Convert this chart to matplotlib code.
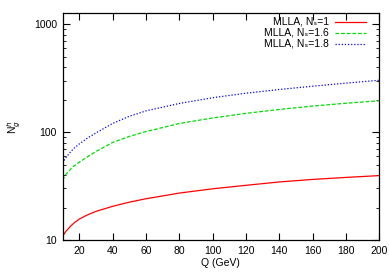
import matplotlib
matplotlib.use("Agg")
import matplotlib.pyplot as plt
from matplotlib.lines import Line2D
from matplotlib.ticker import LogLocator, FixedLocator, NullFormatter, FixedFormatter

plt.rcParams['font.family'] = ['Liberation Sans', 'DejaVu Sans']

Q = [10, 12, 15, 17, 20, 25, 30, 40, 50, 60, 80, 100, 120, 140, 160, 180, 200]
n_s1 = [10.8, 12.0, 13.5, 14.4, 15.6, 17.1, 18.4, 20.5, 22.4, 24.1, 27.2, 29.8, 32.1, 34.5, 36.4, 38.0, 39.5]
n_s16 = [35.9, 40.5, 45.5, 48.7, 52.5, 59, 66, 80, 91, 101, 120, 135, 149, 162, 174, 185, 195]
n_s18 = [51.5, 58, 66, 71, 77.5, 88, 98, 120, 140, 157, 184, 208, 229, 248, 266, 284, 302]
labels = ["MLLA, N\u209b=1", "MLLA, N\u209b=1.6", "MLLA, N\u209b=1.8"]
xticks = [20, 40, 60, 80, 100, 120, 140, 160, 180, 200]
yticks = [10, 100, 1000]

fig = plt.figure(figsize=(3.89, 2.73), dpi=100)
ax = fig.add_axes([0.1607, 0.1209, 0.975 - 0.1607, 0.952 - 0.1209])

colors = ['#ff0000', '#00dd00', '#0000ff']
styles = ['-', (0, (3, 1.5)), (0, (1, 1.5))]
for y, c, s in zip([n_s1, n_s16, n_s18], colors, styles):
    ax.plot(Q, y, color=c, lw=0.9, ls=s)

ax.set_yscale('log')
ax.set_xlim(10, 200)
ax.set_ylim(10, 1265)
ax.xaxis.set_major_locator(FixedLocator(xticks))
ax.set_xticklabels([str(t) for t in xticks])
ax.yaxis.set_major_locator(FixedLocator(yticks))
ax.yaxis.set_major_formatter(FixedFormatter([str(t) for t in yticks]))
ax.yaxis.set_minor_locator(LogLocator(base=10, subs=range(2, 10)))
ax.yaxis.set_minor_formatter(NullFormatter())

ax.tick_params(which='both', direction='in', top=True, right=True, labelsize=7.5, pad=4)
ax.tick_params(which='major', length=5, width=0.8)
ax.tick_params(which='minor', length=2.5, width=0.6)
for s in ax.spines.values():
    s.set_linewidth(0.9)

ax.set_xlabel('Q (GeV)', fontsize=7.5, labelpad=2)
ax.set_ylabel('N$_g^h$', fontsize=7.5, labelpad=8)

# legend, gnuplot style: right-aligned text followed by line sample
rows = [0.962, 0.913, 0.865]
for lab, c, s, yr in zip(labels, colors, styles, rows):
    ax.text(0.841, yr, lab, transform=ax.transAxes, ha='right', va='center',
            fontsize=7.5)
    ax.add_line(Line2D([0.860, 0.958], [yr, yr], transform=ax.transAxes,
                       color=c, lw=0.9, ls=s))

fig.savefig('out.png', dpi=100)
